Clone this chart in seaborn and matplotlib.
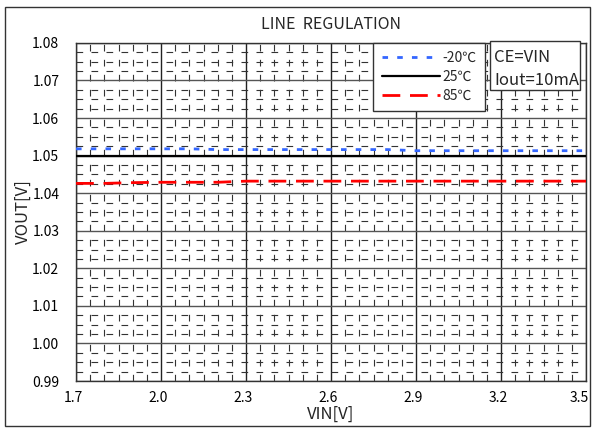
import numpy as np
import pandas as pd
import matplotlib
matplotlib.use("Agg")
import matplotlib.pyplot as plt
import matplotlib.transforms as mtransforms
from matplotlib.ticker import MultipleLocator
import seaborn as sns

# input voltage sweep
vin = [1.7, 1.8, 1.9, 2.0, 2.1, 2.2, 2.3, 2.4, 2.5, 2.6,
       2.7, 2.8, 2.9, 3.0, 3.1, 3.2, 3.3, 3.4, 3.5]
# output voltage per temperature
vout_m20 = [1.0518, 1.0518, 1.0518, 1.0518, 1.0518, 1.0516, 1.0516, 1.0516, 1.0516, 1.0516,
            1.0516, 1.0516, 1.0513, 1.0513, 1.0513, 1.0513, 1.0513, 1.0513, 1.0513]
vout_25 = [1.0500] * 19
vout_85 = [1.0426, 1.0426, 1.0428, 1.0429, 1.0429, 1.0429, 1.0432, 1.0432, 1.0432, 1.0432,
           1.0432, 1.0432, 1.0432, 1.0432, 1.0432, 1.0432, 1.0432, 1.0432, 1.0432]
temps = ["-20℃", "25℃", "85℃"]
xticks = [1.7, 2.0, 2.3, 2.6, 2.9, 3.2, 3.5]
yticks = [0.99, 1.00, 1.01, 1.02, 1.03, 1.04, 1.05, 1.06, 1.07, 1.08]
conditions = ["CE=VIN", "Iout=10mA"]

df = pd.DataFrame({
    "VIN": vin * 3,
    "VOUT": vout_m20 + vout_25 + vout_85,
    "temp": [temps[0]] * 19 + [temps[1]] * 19 + [temps[2]] * 19,
})

sns.set_theme(style="white")
plt.rcParams['font.family'] = ['Noto Sans CJK JP', 'DejaVu Sans']

fig = plt.figure(figsize=(5.94, 4.28), dpi=100)
ax = fig.add_axes([0.1280, 0.1098, 0.8586, 0.7900])

# outer frame round the whole picture
fig.patches.append(plt.Rectangle((0.008, 0.004), 0.985, 0.980, transform=fig.transFigure,
                                 fill=False, edgecolor='#333333', linewidth=1.0))

palette = {temps[0]: '#3366ff', temps[1]: 'black', temps[2]: '#ff0000'}
dashes = {temps[0]: (2, 3.3), temps[1]: '', temps[2]: (6.4, 3.5)}
sns.lineplot(data=df, x="VIN", y="VOUT", hue="temp", style="temp",
             palette=palette, dashes=dashes, hue_order=temps, style_order=temps,
             linewidth=2.0, ax=ax, zorder=3)
for ln in ax.get_lines():
    if ln.get_color() == 'black':
        ln.set_linewidth(1.6)

ax.set_xlim(1.7, 3.5)
ax.set_ylim(0.99, 1.08)
ax.set_xticks(xticks)
ax.set_xticklabels([f"{t:.1f}" for t in xticks])
ax.set_yticks(yticks)
ax.set_yticklabels([f"{t:.2f}" for t in yticks])
ax.xaxis.set_minor_locator(MultipleLocator(0.05))
ax.yaxis.set_minor_locator(MultipleLocator(0.0025))
ax.tick_params(which='both', length=0, labelsize=10, colors='black')
ax.tick_params(axis='y', pad=12)
ax.tick_params(axis='x', pad=7)

# x labels sit a little left of their grid lines, the last one inside the frame
shift = mtransforms.ScaledTranslation(-3 / 100, 0, fig.dpi_scale_trans)
xlabs = ax.get_xticklabels()
for lab in xlabs:
    lab.set_transform(lab.get_transform() + shift)
xlabs[-1].set_horizontalalignment('right')
xlabs[-1].set_transform(xlabs[-1].get_transform() + mtransforms.ScaledTranslation(6 / 100, 0, fig.dpi_scale_trans))

ax.grid(which='major', axis='x', color='#222222', linewidth=1.0, linestyle='-', zorder=1)
ax.grid(which='major', axis='y', color='#555555', linewidth=1.0, linestyle='-', zorder=1)
ax.grid(which='minor', color='#333333', linewidth=0.8, linestyle=(0, (6, 7.5)), zorder=1)
ax.set_axisbelow(True)
for s in ax.spines.values():
    s.set_color('#333333')
    s.set_linewidth(1.0)

ax.set_xlabel("VIN[V]", fontsize=12, labelpad=1)
ax.set_ylabel("VOUT[V]", fontsize=12, labelpad=0)
ax.set_title("LINE  REGULATION", fontsize=11.5, pad=10)

leg = ax.legend(loc='upper left', bbox_to_anchor=(0.583, 1.0), fontsize=10,
                handlelength=4.2, handletextpad=0.15, labelspacing=0.35,
                borderpad=0.6, borderaxespad=0.0, frameon=True, fancybox=False,
                framealpha=1, edgecolor='#333333')
leg.get_frame().set_linewidth(1.0)
leg.set_zorder(5)

# condition box
ax.add_patch(plt.Rectangle((0.812, 0.861), 0.177, 0.145, transform=ax.transAxes,
                           facecolor='white', edgecolor='#333333', linewidth=1.0,
                           clip_on=False, zorder=6))
for yy, txt in zip([0.957, 0.889], conditions):
    ax.text(0.820, yy, txt, transform=ax.transAxes, fontsize=12,
            va='center', ha='left', zorder=7)

fig.savefig("out.png", dpi=100)
